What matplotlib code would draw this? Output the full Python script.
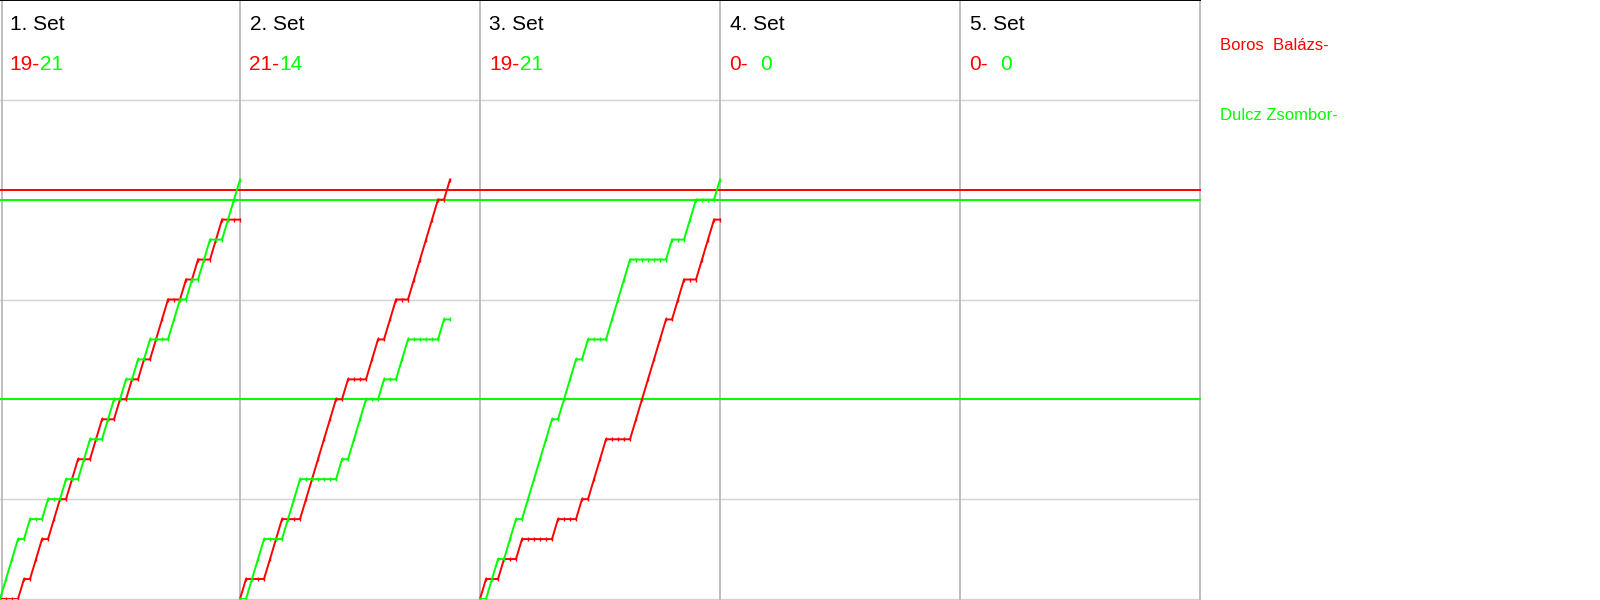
import matplotlib
matplotlib.use("Agg")
import matplotlib.pyplot as plt
import numpy as np

# ---------------- data ----------------
set_titles = ["1. Set", "2. Set", "3. Set", "4. Set", "5. Set"]
player_names = ["Boros  Balázs-", "Dulcz Zsombor-"]

# cumulative score after each rally (rally 0 = start)
red_set1 = [0, 0, 0, 0, 1, 1, 2, 3, 3, 4, 5, 5, 6, 7, 7, 7, 8, 9, 9, 9, 10,
            10, 11, 11, 12, 12, 13, 14, 15, 15, 15, 16, 16, 17, 17, 17, 18, 19, 19, 19, 19]
green_set1 = [0, 1, 2, 3, 3, 4, 4, 4, 5, 5, 5, 6, 6, 6, 7, 8, 8, 8, 9, 10, 10,
              11, 11, 12, 12, 13, 13, 13, 13, 14, 15, 15, 16, 16, 17, 18, 18, 18, 19, 20, 21]
red_set2 = [0, 1, 1, 1, 1, 2, 3, 4, 4, 4, 4, 5, 6, 7, 8, 9, 10, 10, 11, 11, 11,
            11, 12, 13, 13, 14, 15, 15, 15, 16, 17, 18, 19, 20, 20, 21]
green_set2 = [0, 0, 1, 2, 3, 3, 3, 3, 4, 5, 6, 6, 6, 6, 6, 6, 6, 7, 7, 8, 9,
              10, 10, 10, 11, 11, 11, 12, 13, 13, 13, 13, 13, 13, 14, 14]
red_set3 = [0, 1, 1, 1, 2, 2, 2, 3, 3, 3, 3, 3, 3, 4, 4, 4, 4, 5, 5, 6, 7,
            8, 8, 8, 8, 8, 9, 10, 11, 12, 13, 14, 14, 15, 16, 16, 16, 17, 18, 19, 19]
green_set3 = [0, 0, 1, 2, 2, 3, 4, 4, 5, 6, 7, 8, 9, 9, 10, 11, 12, 12, 13, 13, 13,
              13, 14, 15, 16, 17, 17, 17, 17, 17, 17, 17, 18, 18, 18, 19, 20, 20, 20, 20, 21]
red_series = [red_set1, red_set2, red_set3, [], []]
green_series = [green_set1, green_set2, green_set3, [], []]

final_red = [19, 21, 19, 0, 0]
final_green = [21, 14, 21, 0, 0]

ref_red_levels = [20.5]
ref_green_levels = [20, 10]
grid_levels = [0, 5, 10, 15, 20, 25]

# ---------------- style ----------------
W, H, DPI = 1600, 600, 100
RED = "#ff0000"
GREEN = "#00ff00"
HGRID = "#d2d2d2"
VGRID = "#b4b4b4"
FONT = "Liberation Sans"
RALLIES_PER_SET = 40
YMAX = 30

fig = plt.figure(figsize=(W / DPI, H / DPI), dpi=DPI)
ax = fig.add_axes([0, 1 / H, 1200 / W, (H - 1) / H])
n_sets = len(set_titles)
ax.set_xlim(0, RALLIES_PER_SET * n_sets)
ax.set_ylim(0, YMAX)
ax.axis("off")

# grid
for lv in grid_levels:
    ax.axhline(lv, color=HGRID, lw=1.0, zorder=1, clip_on=False)
ax.axhline(YMAX, color="black", lw=1.4, zorder=5, clip_on=False)
ax.axvline(0.4, color=VGRID, lw=1.2, zorder=1, clip_on=False)
for k in range(1, n_sets + 1):
    ax.axvline(RALLIES_PER_SET * k, color=VGRID, lw=1.2, zorder=1, clip_on=False)

# reference lines
for lv in ref_red_levels:
    ax.axhline(lv, color=RED, lw=1.4, zorder=2, clip_on=False)
for lv in ref_green_levels:
    ax.axhline(lv, color=GREEN, lw=1.4, zorder=2, clip_on=False)

# score progressions
for k in range(n_sets):
    off = RALLIES_PER_SET * k
    if red_series[k]:
        xs = off + np.arange(len(red_series[k]))
        ax.plot(xs, red_series[k], color=RED, lw=1.4, marker="|", ms=3.2,
                mew=1.0, zorder=3, solid_joinstyle="miter")
    if green_series[k]:
        xs = off + np.arange(len(green_series[k]))
        ax.plot(xs, green_series[k], color=GREEN, lw=1.4, marker="|", ms=3.2,
                mew=1.0, zorder=4, solid_joinstyle="miter")

# texts
def fx(px):
    return px / W

def fy(py):
    return 1 - py / H

fig.canvas.draw()
renderer = fig.canvas.get_renderer()
probe = fig.text(0, 0, "0", fontsize=15, family=FONT)
digit_w = probe.get_window_extent(renderer=renderer).width
probe.remove()

for k in range(n_sets):
    left = 240 * k + 9.5
    fig.text(fx(left), fy(30.5), set_titles[k], fontsize=15, family=FONT,
             color="black", va="baseline", ha="left")
    t = fig.text(fx(left), fy(70.5), f"{final_red[k]}-", fontsize=15, family=FONT,
                 color=RED, va="baseline", ha="left")
    bb = t.get_window_extent(renderer=renderer)
    pad = digit_w if final_green[k] < 10 else 0
    fig.text(fx(bb.x1 + pad), fy(70.5), f"{final_green[k]}", fontsize=15,
             family=FONT, color=GREEN, va="baseline", ha="left")

fig.text(fx(1220), fy(50.5), player_names[0], fontsize=12, family=FONT,
         color=RED, va="baseline", ha="left")
fig.text(fx(1220), fy(120.5), player_names[1], fontsize=12, family=FONT,
         color=GREEN, va="baseline", ha="left")

fig.savefig("out.png", dpi=DPI)
